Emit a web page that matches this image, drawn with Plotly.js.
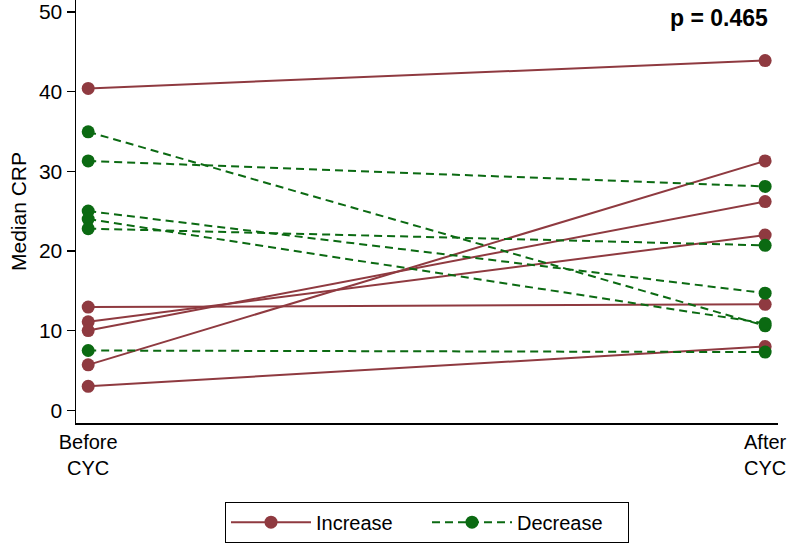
<!DOCTYPE html>
<html>
<head>
<meta charset="utf-8">
<script src="https://cdn.plot.ly/plotly-3.0.1.min.js"></script>
<style>html,body{margin:0;padding:0;background:#fff;}#chart{width:787px;height:543px;}</style>
</head>
<body>
<div id="chart"></div>
<script>
// Timepoints
const timeLabels = ["Before<br>CYC", "After<br>CYC"];
// Patients whose median CRP increased
const increaseBefore = [40.4, 12.95, 11.1, 10.0, 5.7, 3.0];
const increaseAfter  = [43.9, 13.3, 22.0, 26.2, 31.3, 8.0];
// Patients whose median CRP decreased
const decreaseBefore = [34.95, 31.3, 25.0, 24.0, 22.8, 7.5];
const decreaseAfter  = [10.6, 28.1, 14.7, 10.9, 20.7, 7.3];
const pText = "p = 0.465";

const red = "#8f3a40";
const green = "#0b6a12";
const xs = [0, 1];
const traces = [];
increaseBefore.forEach((b, i) => {
  traces.push({
    x: xs, y: [b, increaseAfter[i]], type: "scatter", mode: "lines+markers",
    name: "Increase", legendgroup: "inc", showlegend: i === 0,
    line: {color: red, width: 2}, marker: {color: red, size: 13}
  });
});
decreaseBefore.forEach((b, i) => {
  traces.push({
    x: xs, y: [b, decreaseAfter[i]], type: "scatter", mode: "lines+markers",
    name: "Decrease", legendgroup: "dec", showlegend: i === 0,
    line: {color: green, width: 2, dash: "8px,5px"}, marker: {color: green, size: 13}
  });
});

const layout = {
  width: 787, height: 543,
  margin: {l: 76, r: 9, t: 0, b: 118},
  paper_bgcolor: "#fff", plot_bgcolor: "#fff",
  font: {family: "Liberation Sans, Arial, sans-serif", size: 20, color: "#000"},
  showlegend: true,
  xaxis: {
    range: [-0.018, 1.019], tickvals: xs, ticktext: timeLabels,
    showgrid: false, zeroline: false, showline: true, linecolor: "#000", linewidth: 1.5,
    ticks: "", tickfont: {size: 20}, fixedrange: true
  },
  yaxis: {
    range: [-1.6, 51.5], tickvals: [0, 10, 20, 30, 40, 50],
    showgrid: false, zeroline: false, showline: true, linecolor: "#000", linewidth: 1.5,
    ticks: "outside", ticklen: 8, tickwidth: 1.5, tickcolor: "#000", tickfont: {size: 21},
    title: {text: "Median CRP", font: {size: 21}, standoff: 6}
  },
  legend: {
    orientation: "h", x: 0.5, xanchor: "center", y: -0.186, yanchor: "top",
    bordercolor: "#000", borderwidth: 1, font: {size: 20}, itemwidth: 80,
    entrywidth: 106, traceorder: "normal"
  },
  annotations: [{
    text: "<b>" + pText + "</b>", xref: "paper", yref: "paper",
    x: 1, y: 1, xanchor: "right", yanchor: "top", xshift: -8, yshift: -3,
    showarrow: false, font: {size: 23, color: "#000"}
  }]
};
Plotly.newPlot("chart", traces, layout, {displayModeBar: false, staticPlot: true});
</script>
</body>
</html>
